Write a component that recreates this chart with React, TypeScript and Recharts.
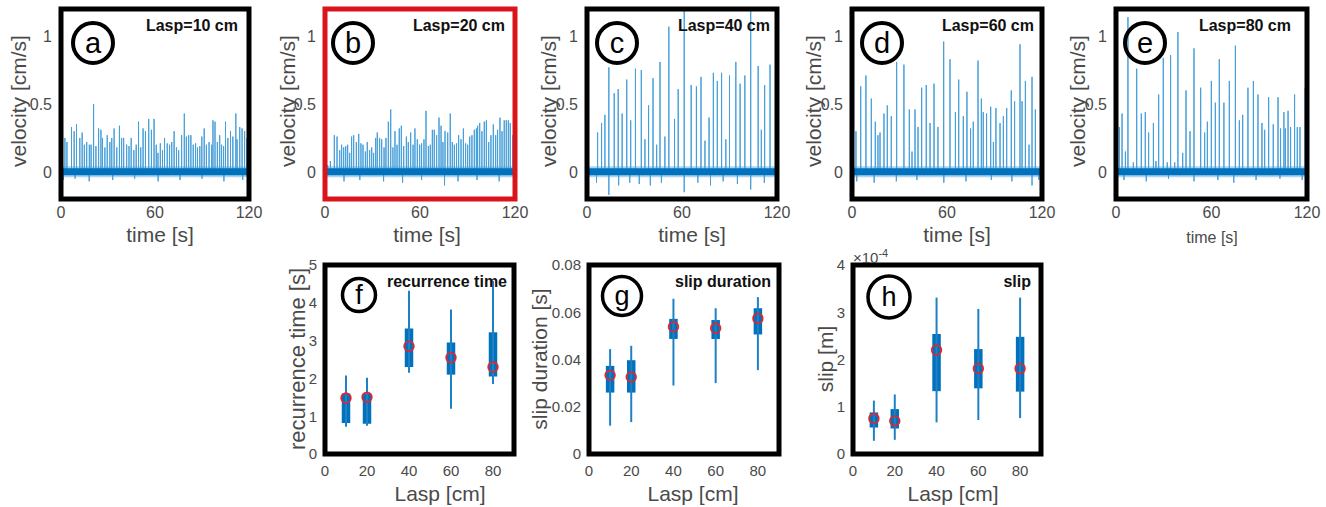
import React from 'react';
import {
  LineChart,
  Line,
  ScatterChart,
  Scatter,
  ErrorBar,
  XAxis,
  YAxis,
} from 'recharts';

// ---- data ----

const TIME_TICKS = [0, 60, 120];
const VEL_TICKS = [0, 0.5, 1];
const LASP = [10, 20, 40, 60, 80];
const LASP_TICKS = [0, 20, 40, 60, 80];

// [time s, peak velocity cm/s]
const SPIKES_10 = [
  [2.5, 0.25], [3.8, 0.22], [6.7, 0.33], [8.4, 0.3], [9.9, 0.35], [12.0, 0.25], [13.5, 0.29], [14.9, 0.2],
  [16.4, 0.22], [18.1, 0.2], [19.2, 0.2], [20.8, 0.5], [22.3, 0.19], [24.0, 0.32], [25.5, 0.31], [26.5, 0.25],
  [28.0, 0.18], [29.5, 0.27], [31.2, 0.22], [32.4, 0.25], [33.9, 0.32], [35.6, 0.18], [37.3, 0.34], [38.7, 0.25],
  [40.0, 0.25], [41.9, 0.2], [43.4, 0.19], [44.8, 0.25], [46.5, 0.16], [48.0, 0.2], [49.5, 0.37], [50.9, 0.18],
  [52.4, 0.32], [53.9, 0.3], [56.0, 0.39], [57.7, 0.31], [59.4, 0.39], [60.8, 0.2], [61.9, 0.14], [63.4, 0.21],
  [64.8, 0.16], [66.1, 0.25], [67.8, 0.21], [69.3, 0.2], [70.7, 0.22], [72.2, 0.3], [73.7, 0.18], [75.1, 0.16],
  [77.0, 0.27], [78.7, 0.43], [80.0, 0.26], [81.5, 0.27], [82.9, 0.27], [84.4, 0.2], [85.9, 0.21], [87.1, 0.18],
  [88.6, 0.19], [89.9, 0.26], [91.4, 0.32], [92.8, 0.2], [94.5, 0.22], [96.2, 0.2], [97.0, 0.38], [98.3, 0.37],
  [99.8, 0.22], [101.3, 0.27], [102.5, 0.2], [103.8, 0.19], [105.0, 0.37], [106.5, 0.25], [108.2, 0.3], [109.7, 0.26],
  [111.6, 0.43], [112.4, 0.24], [114.1, 0.33], [115.6, 0.32], [117.2, 0.3], [118.7, 0.25],
];
const DIPS_10 = [
  [1.5, -0.06], [9, -0.05], [18, -0.07], [33, -0.06], [47, -0.05], [62, -0.07], [76, -0.06], [90, -0.05],
  [104, -0.07], [116, -0.06],
];

const SPIKES_20 = [
  [1.7, 0.05], [3.4, 0.08], [5.9, 0.27], [7.6, 0.26], [9.3, 0.16], [10.5, 0.2], [11.8, 0.18], [13.1, 0.19],
  [14.3, 0.2], [15.6, 0.14], [16.8, 0.26], [18.1, 0.27], [19.8, 0.22], [21.3, 0.28], [22.7, 0.21], [24.0, 0.2],
  [25.5, 0.15], [26.7, 0.22], [28.2, 0.16], [29.5, 0.18], [30.7, 0.14], [32.0, 0.25], [33.0, 0.29], [34.5, 0.25],
  [35.8, 0.24], [37.3, 0.18], [38.5, 0.25], [40.0, 0.37], [41.5, 0.46], [42.9, 0.18], [44.2, 0.3], [45.5, 0.2],
  [46.9, 0.32], [48.2, 0.34], [49.7, 0.19], [51.4, 0.26], [52.6, 0.22], [54.1, 0.29], [55.6, 0.2], [56.8, 0.32],
  [58.3, 0.24], [59.8, 0.2], [61.0, 0.21], [62.5, 0.24], [63.8, 0.45], [65.3, 0.19], [66.5, 0.2], [67.8, 0.31],
  [69.0, 0.31], [70.5, 0.27], [72.0, 0.4], [73.3, 0.34], [74.5, 0.22], [75.8, 0.3], [77.5, 0.29], [79.1, 0.43],
  [80.4, 0.22], [81.7, 0.2], [83.1, 0.21], [84.4, 0.27], [85.9, 0.24], [87.4, 0.32], [88.8, 0.21], [90.1, 0.2],
  [91.4, 0.26], [92.8, 0.27], [94.3, 0.31], [95.6, 0.32], [96.4, 0.34], [97.7, 0.36], [99.1, 0.3], [100.6, 0.37],
  [101.9, 0.38], [103.4, 0.22], [104.8, 0.27], [106.3, 0.35], [107.8, 0.27], [109.0, 0.31], [110.5, 0.4],
  [111.8, 0.3], [113.2, 0.38], [114.5, 0.38], [115.8, 0.38], [117.0, 0.36], [118.7, 0.27],
];
const DIPS_20 = [
  [0.3, -0.2], [12, -0.07], [22, -0.06], [37, -0.07], [49, -0.08], [61, -0.06], [75.5, -0.1], [84, -0.07],
  [96, -0.06], [110, -0.07],
];

const SPIKES_40 = [
  [6.7, 0.29], [9.2, 0.36], [11.3, 0.42], [13.8, 0.77], [17.2, 0.58], [19.7, 0.61], [22.2, 0.43], [25.1, 0.68],
  [27.6, 0.38], [30.6, 0.76], [34.3, 0.75], [36.6, 0.24], [38.9, 0.49], [41.7, 0.69], [44.0, 0.2], [46.1, 0.81],
  [49.2, 0.26], [51.7, 1.07], [55.3, 0.39], [57.6, 0.61], [61.4, 1.19], [65.8, 0.64], [69.1, 0.63], [72.0, 0.7],
  [74.5, 0.23], [77.1, 0.4], [79.8, 0.73], [82.3, 0.67], [85.0, 0.73], [87.7, 0.24], [90.0, 0.71], [94.0, 0.81],
  [96.7, 0.65], [99.7, 0.71], [103.4, 1.19], [108.1, 0.78], [110.1, 0.31], [112.2, 0.64], [115.6, 0.79],
];
const DIPS_40 = [
  [0.5, -0.18], [6, -0.08], [13.8, -0.17], [20, -0.1], [27, -0.08], [33, -0.09], [40, -0.1], [47, -0.08],
  [61.4, -0.15], [70, -0.08], [78, -0.1], [86, -0.07], [95, -0.09], [103.4, -0.13], [112, -0.08],
];

const SPIKES_60 = [
  [0.4, 0.39], [2.5, 0.3], [5.5, 0.63], [8.8, 0.71], [12.2, 0.54], [14.7, 0.37], [16.4, 0.27], [17.7, 0.29],
  [20.2, 0.43], [22.3, 0.49], [24.8, 0.41], [28.2, 0.81], [32.8, 0.79], [36.2, 0.46], [37.9, 0.15], [39.8, 0.46],
  [41.7, 0.33], [44.0, 0.62], [46.9, 0.64], [49.3, 0.36], [51.8, 0.65], [54.3, 0.33], [57.9, 0.96], [61.9, 0.83],
  [65.3, 0.44], [67.4, 0.68], [70.3, 0.41], [72.6, 0.59], [74.9, 0.32], [76.6, 0.37], [79.6, 0.82], [81.7, 0.54],
  [82.9, 0.44], [85.0, 0.43], [87.6, 0.48], [89.3, 0.22], [90.9, 0.47], [93.5, 0.36], [95.6, 0.41], [97.7, 0.47],
  [100.6, 0.6], [102.7, 0.52], [106.1, 0.94], [107.4, 0.52], [109.5, 0.67], [111.8, 0.2], [113.7, 0.7], [115.8, 0.46],
];
const DIPS_60 = [
  [3, -0.07], [14, -0.08], [28, -0.07], [41, -0.06], [58, -0.08], [72, -0.07], [88, -0.06], [101, -0.07],
  [113.7, -0.1], [118, -0.06],
];

const SPIKES_80 = [
  [2.1, 0.33], [3.8, 0.43], [5.9, 0.15], [7.5, 1.14], [10.9, 0.07], [13.0, 0.76], [15.9, 0.43], [18.4, 0.44],
  [20.5, 0.29], [23.5, 0.36], [25.1, 0.08], [26.8, 0.57], [29.7, 0.84], [32.2, 0.07], [34.3, 0.86], [36.9, 0.07],
  [38.9, 1.03], [41.9, 0.14], [44.0, 0.6], [46.5, 0.3], [49.0, 0.91], [53.2, 0.62], [55.7, 0.29], [57.4, 0.37],
  [59.9, 0.67], [62.4, 0.51], [64.9, 0.83], [67.8, 0.51], [71.2, 0.67], [75.0, 0.93], [77.5, 0.38], [79.6, 0.42],
  [82.9, 0.62], [86.3, 0.67], [89.2, 0.57], [91.7, 0.36], [93.4, 0.31], [95.9, 0.55], [98.8, 0.35], [101.8, 0.55],
  [103.4, 0.32], [105.5, 0.44], [106.4, 0.32], [108.1, 0.45], [109.7, 0.33], [112.2, 0.57], [113.9, 0.33],
  [115.6, 0.33], [118.9, 0.62],
];
const DIPS_80 = [
  [5, -0.06], [19, -0.07], [33, -0.05], [49, -0.07], [64, -0.06], [74, -0.08], [88, -0.06], [103, -0.05],
  [117, -0.06],
];

// box statistics per Lasp
const REC_LO = [0.72, 0.75, 2.15, 1.2, 1.85];
const REC_Q1 = [0.82, 0.8, 2.3, 2.1, 2.05];
const REC_MID = [1.48, 1.5, 2.85, 2.55, 2.3];
const REC_Q3 = [1.6, 1.6, 3.32, 2.95, 3.22];
const REC_HI = [2.08, 2.02, 4.32, 3.82, 4.58];

const DUR_LO = [0.012, 0.0135, 0.029, 0.03, 0.0355];
const DUR_Q1 = [0.026, 0.026, 0.0487, 0.0487, 0.0506];
const DUR_MID = [0.0333, 0.0326, 0.0539, 0.0532, 0.0574];
const DUR_Q3 = [0.0373, 0.0397, 0.0572, 0.0567, 0.0617];
const DUR_HI = [0.0444, 0.0458, 0.0657, 0.0617, 0.0664];

// slip in units of 1e-4 m
const SLIP_LO = [0.28, 0.3, 0.67, 0.72, 0.76];
const SLIP_Q1 = [0.56, 0.54, 1.33, 1.39, 1.32];
const SLIP_MID = [0.75, 0.7, 2.2, 1.81, 1.81];
const SLIP_Q3 = [0.88, 0.95, 2.54, 2.22, 2.48];
const SLIP_HI = [1.13, 1.26, 3.31, 3.07, 3.31];

// ---- styling ----
const FONT = '"Liberation Sans", Arial, Helvetica, sans-serif';
const GREY = '#4a4a4a';
const BLUE = '#0072BD';
const SPIKE = '#469fd9';

const topTick = { fill: GREY, fontSize: 16, fontFamily: FONT };
const botTick = { fill: GREY, fontSize: 15, fontFamily: FONT };

const buildTrace = (spikes: number[][], dips: number[][]) => {
  const all = [...spikes, ...dips].sort((p, q) => p[0] - q[0]);
  const pts: { t: number; v: number }[] = [{ t: TIME_TICKS[0], v: 0 }];
  all.forEach(([t, v]) => {
    pts.push({ t, v: 0 }, { t, v }, { t, v: 0 });
  });
  pts.push({ t: TIME_TICKS[TIME_TICKS.length - 1], v: 0 });
  return pts;
};

const buildBoxes = (lo: number[], q1: number[], mid: number[], q3: number[], hi: number[]) =>
  LASP.map((x, i) => ({
    x,
    mid: mid[i],
    whisk: [mid[i] - lo[i], hi[i] - mid[i]],
    box: [mid[i] - q1[i], q3[i] - mid[i]],
  }));

const TracePanel = ({ left, width, spikes, dips }: any) => {
  const data = buildTrace(spikes, dips);
  const base = TIME_TICKS.map((t) => ({ t, v: 0 }));
  return (
    <div style={{ position: 'absolute', left: left - 50, top: 0 }}>
      <LineChart width={50 + width + 24} height={250} margin={{ top: 9, right: 24, left: 0, bottom: 0 }}>
        <XAxis
          type="number"
          dataKey="t"
          domain={[0, 120]}
          ticks={TIME_TICKS}
          interval={0}
          axisLine={false}
          tickLine={false}
          tickSize={0}
          tickMargin={8}
          height={51}
          tick={topTick}
        />
        <YAxis
          type="number"
          dataKey="v"
          domain={[-0.2, 1.2]}
          ticks={VEL_TICKS}
          interval={0}
          allowDataOverflow
          axisLine={false}
          tickLine={false}
          tickSize={0}
          tickMargin={9}
          width={50}
          tick={topTick}
        />
        <Line data={data} dataKey="v" type="linear" stroke={SPIKE} strokeWidth={1} dot={false} isAnimationActive={false} />
        <Line data={base} dataKey="v" type="linear" stroke={SPIKE} strokeOpacity={0.45} strokeWidth={11} dot={false} isAnimationActive={false} />
        <Line data={base} dataKey="v" type="linear" stroke={BLUE} strokeWidth={7} dot={false} isAnimationActive={false} />
      </LineChart>
    </div>
  );
};

const BoxPanel = ({ left, width, data, domain, ticks }: any) => (
  <div style={{ position: 'absolute', left: left - 50, top: 256 }}>
    <ScatterChart width={50 + width + 24} height={250} margin={{ top: 9, right: 24, left: 0, bottom: 0 }}>
      <XAxis
        type="number"
        dataKey="x"
        domain={[0, 90]}
        ticks={LASP_TICKS}
        interval={0}
        axisLine={false}
        tickLine={false}
        tickSize={0}
        tickMargin={11}
        height={52}
        tick={botTick}
      />
      <YAxis
        type="number"
        dataKey="mid"
        domain={domain}
        ticks={ticks}
        interval={0}
        axisLine={false}
        tickLine={false}
        tickSize={0}
        tickMargin={8}
        width={50}
        tick={botTick}
      />
      <Scatter
        data={data}
        isAnimationActive={false}
        shape={(p: any) => (
          <circle cx={p.cx} cy={p.cy} r={4.8} fill="none" stroke="#e3262d" strokeWidth={1.8} />
        )}
      >
        <ErrorBar dataKey="box" direction="y" width={0} strokeWidth={8.5} stroke={BLUE} isAnimationActive={false} />
        <ErrorBar dataKey="whisk" direction="y" width={0} strokeWidth={2} stroke="#1f80c6" isAnimationActive={false} />
      </Scatter>
    </ScatterChart>
  </div>
);

// panel geometry (plot boxes)
const TOP = [
  { key: 'a', left: 61, width: 188, label: 'Lasp=10 cm', spikes: SPIKES_10, dips: DIPS_10, cx: 93, tx: 238, yl: 18, xl: 160 },
  { key: 'b', left: 325, width: 190, label: 'Lasp=20 cm', spikes: SPIKES_20, dips: DIPS_20, cx: 353, tx: 505, yl: 287, xl: 427 },
  { key: 'c', left: 587, width: 190, label: 'Lasp=40 cm', spikes: SPIKES_40, dips: DIPS_40, cx: 617, tx: 770, yl: 548, xl: 692 },
  { key: 'd', left: 852, width: 190, label: 'Lasp=60 cm', spikes: SPIKES_60, dips: DIPS_60, cx: 882, tx: 1034, yl: 813, xl: 957 },
  { key: 'e', left: 1116, width: 191, label: 'Lasp=80 cm', spikes: SPIKES_80, dips: DIPS_80, cx: 1145, tx: 1291, yl: 1077, xl: 1212 },
];

const BOTTOM = [
  {
    key: 'f', left: 325, width: 189, title: 'recurrence time', ylabel: 'recurrence time [s]', ys: 22,
    data: buildBoxes(REC_LO, REC_Q1, REC_MID, REC_Q3, REC_HI), domain: [0, 5], ticks: [0, 1, 2, 3, 4, 5],
    cx: 359, cy: 295, r: 16.5, tx: 507, yl: 297, xl: 440,
  },
  {
    key: 'g', left: 589, width: 190, title: 'slip duration', ylabel: 'slip duration [s]', ys: 21,
    data: buildBoxes(DUR_LO, DUR_Q1, DUR_MID, DUR_Q3, DUR_HI), domain: [0, 0.08], ticks: [0, 0.02, 0.04, 0.06, 0.08],
    cx: 622, cy: 296, r: 19.5, tx: 771, yl: 539, xl: 693,
  },
  {
    key: 'h', left: 853, width: 188, title: 'slip', ylabel: 'slip [m]', ys: 21,
    data: buildBoxes(SLIP_LO, SLIP_Q1, SLIP_MID, SLIP_Q3, SLIP_HI), domain: [0, 4], ticks: [0, 1, 2, 3, 4],
    cx: 889, cy: 297, r: 21, tx: 1031, yl: 825, xl: 953,
  },
];

const TOP_Y = 9;
const TOP_H = 190;
const BOT_Y = 265;
const BOT_H = 189;

export default function App() {
  return (
    <div style={{ position: 'absolute', left: 0, top: 0, width: 1326, height: 507, background: '#fff', fontFamily: FONT }}>
      {TOP.map((p) => (
        <TracePanel key={p.key} left={p.left} width={p.width} spikes={p.spikes} dips={p.dips} />
      ))}
      {BOTTOM.map((p) => (
        <BoxPanel key={p.key} left={p.left} width={p.width} data={p.data} domain={p.domain} ticks={p.ticks} />
      ))}

      <svg width={1326} height={507} style={{ position: 'absolute', left: 0, top: 0, pointerEvents: 'none' }}>
        {TOP.map((p) => (
          <g key={p.key}>
            <rect x={p.left} y={TOP_Y} width={p.width} height={TOP_H} fill="none"
              stroke={p.key === 'b' ? '#d9141b' : '#000'} strokeWidth={5} />
            <circle cx={p.cx} cy={43} r={20} fill="none" stroke="#000" strokeWidth={4} />
            <text x={p.cx} y={43} textAnchor="middle" dominantBaseline="central" fontSize={29} fill="#000">{p.key}</text>
            <text x={p.tx} y={25} textAnchor="end" dominantBaseline="central" fontSize={16} fontWeight="bold" fill="#111">{p.label}</text>
            <text transform={`translate(${p.yl},101) rotate(-90)`} textAnchor="middle" dominantBaseline="central" fontSize={21} fill={GREY}>velocity [cm/s]</text>
            <text x={p.xl} y={p.key === 'e' ? 237 : 234} textAnchor="middle" dominantBaseline="central" fontSize={p.key === 'e' ? 16 : 21} fill={GREY}>time [s]</text>
          </g>
        ))}
        {BOTTOM.map((p) => (
          <g key={p.key}>
            <rect x={p.left} y={BOT_Y} width={p.width} height={BOT_H} fill="none" stroke="#000" strokeWidth={5} />
            <circle cx={p.cx} cy={p.cy} r={p.r} fill="none" stroke="#000" strokeWidth={3.5} />
            <text x={p.cx} y={p.cy} textAnchor="middle" dominantBaseline="central" fontSize={27} fill="#000">{p.key}</text>
            <text x={p.tx} y={281} textAnchor="end" dominantBaseline="central" fontSize={16} fontWeight="bold" fill="#111">{p.title}</text>
            <text transform={`translate(${p.yl},359) rotate(-90)`} textAnchor="middle" dominantBaseline="central" fontSize={p.ys} fill={GREY}>{p.ylabel}</text>
            <text x={p.xl} y={493} textAnchor="middle" dominantBaseline="central" fontSize={21} fill={GREY}>Lasp [cm]</text>
          </g>
        ))}
        <text x={853} y={263} fontSize={15} fill={GREY}>
          ×10<tspan dy={-6} fontSize={11}>-4</tspan>
        </text>
      </svg>
    </div>
  );
}
